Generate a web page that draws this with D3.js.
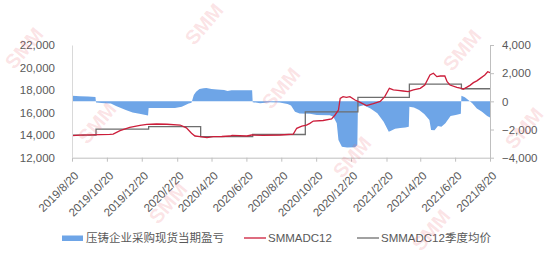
<!DOCTYPE html>
<html>
<head>
<meta charset="utf-8">
<script src="https://cdn.jsdelivr.net/npm/d3@7"></script>
<style>
  html, body { margin: 0; padding: 0; background: #fff; }
  svg { display: block; }
  text { font-family: "Liberation Sans", Arial, "Noto Sans CJK SC", sans-serif; }
</style>
</head>
<body>
<svg id="chart" width="550" height="256"></svg>
<script>
// ---- data ----
const tickDates = ["2019-08-20","2019-10-20","2019-12-20","2020-02-20","2020-04-20","2020-06-20",
  "2020-08-20","2020-10-20","2020-12-20","2021-02-20","2021-04-20","2021-06-20","2021-08-20"];
const tickLabels = ["2019/8/20","2019/10/20","2019/12/20","2020/2/20","2020/4/20","2020/6/20",
  "2020/8/20","2020/10/20","2020/12/20","2021/2/20","2021/4/20","2021/6/20","2021/8/20"];
const leftTicks = [12000, 14000, 16000, 18000, 20000, 22000];
const rightTicks = [-4000, -2000, 0, 2000, 4000];
const seriesNames = ["压铸企业采购现货当期盈亏", "SMMADC12", "SMMADC12季度均价"];

// 压铸企业采购现货当期盈亏 (right axis)
const profitDates = ["2019-08-20","2019-09-03","2019-09-17","2019-09-30","2019-10-01","2019-10-16","2019-10-27",
  "2019-11-05","2019-11-22","2019-12-04","2019-12-16","2019-12-31","2020-01-01","2020-01-21","2020-02-16",
  "2020-02-28","2020-03-11","2020-03-16","2020-03-20","2020-03-24","2020-03-30","2020-04-06","2020-04-11",
  "2020-04-20","2020-04-30","2020-05-12","2020-05-18","2020-05-25","2020-06-30","2020-07-01","2020-07-14",
  "2020-07-31","2020-08-17","2020-08-31","2020-09-06","2020-09-13","2020-09-21","2020-10-09","2020-10-21",
  "2020-11-13","2020-11-19","2020-11-25","2020-11-28","2020-12-04","2020-12-13","2020-12-27","2020-12-31",
  "2021-01-01","2021-01-11","2021-01-23","2021-02-04","2021-02-15","2021-02-24","2021-02-27","2021-03-07",
  "2021-03-16","2021-03-25","2021-03-31","2021-04-01","2021-04-09","2021-04-18","2021-04-27","2021-05-06",
  "2021-05-09","2021-05-15","2021-05-21","2021-05-27","2021-06-03","2021-06-12","2021-06-21","2021-06-30",
  "2021-07-01","2021-07-07","2021-07-13","2021-07-20","2021-07-28","2021-08-06","2021-08-15","2021-08-20"];
const profitValues = [400,360,350,300,-80,-140,-160,
  -330,-620,-800,-880,-1000,-480,-480,-470,
  -380,-150,-100,450,690,880,930,950,
  880,850,810,740,780,780,-60,-130,
  -60,-90,-190,-300,-730,-870,-880,-970,
  -990,-1090,-1560,-2740,-3220,-3270,-3250,-3100,
  -380,-280,-500,-850,-1440,-2150,-2100,-1950,
  -1900,-1850,-1800,-380,-430,-620,-900,-1320,
  -2030,-2050,-1750,-1800,-1560,-1040,-970,-880,
  400,290,95,-140,-500,-730,-1040,-1150];

// SMMADC12 (left axis)
const priceDates = ["2019-08-20","2019-09-03","2019-09-20","2019-10-08","2019-10-25","2019-10-31","2019-11-12",
  "2019-11-29","2019-12-17","2019-12-29","2020-01-15","2020-02-02","2020-02-25","2020-03-07","2020-03-16",
  "2020-03-22","2020-03-31","2020-04-12","2020-04-23","2020-05-08","2020-05-22","2020-05-26","2020-06-21",
  "2020-06-29","2020-07-19","2020-08-18","2020-09-10","2020-09-16","2020-09-25","2020-10-03","2020-10-09",
  "2020-10-15","2020-11-01","2020-11-16","2020-11-22","2020-11-28","2020-12-01","2020-12-06","2020-12-12",
  "2020-12-18","2020-12-27","2021-01-05","2021-01-16","2021-01-28","2021-02-09","2021-02-17","2021-02-25",
  "2021-03-04","2021-03-12","2021-03-21","2021-03-30","2021-04-08","2021-04-20","2021-04-28","2021-05-07",
  "2021-05-13","2021-05-19","2021-05-25","2021-06-02","2021-06-06","2021-06-11","2021-06-23","2021-07-01",
  "2021-07-04","2021-07-10","2021-07-16","2021-07-22","2021-07-28","2021-08-03","2021-08-11","2021-08-16","2021-08-20"];
const priceValues = [13950,14000,14020,14050,14070,14100,14400,
  14700,14875,14960,14990,14970,14900,14650,14165,
  13925,13865,13775,13865,13880,13925,13980,13925,
  14015,13980,14015,14100,14610,14810,14900,15050,
  15255,15300,15435,15790,16230,17270,17410,17350,
  17410,17120,16915,16620,16800,17000,17420,18160,
  18010,17980,17920,17860,18010,18160,18450,19340,
  19490,19190,19250,19250,18745,18450,18240,18160,
  18070,18240,18420,18660,18820,19040,19340,19630,19550];

// SMMADC12季度均价 (left axis, quarterly steps)
const avgDates = ["2019-08-20","2019-10-01","2020-01-01","2020-04-01","2020-07-01","2020-10-01",
  "2021-01-01","2021-04-01","2021-07-01","2021-08-20"];
const avgValues = [14000,14530,14760,13870,14060,16070,17360,18520,18120,18120];

// ---- layout ----
const svg = d3.select("#chart");
const X0 = 72, X1 = 490, YT = 45, YB = 157.7;
const parse = d3.timeParse("%Y-%m-%d");
const x = d3.scaleTime().domain([parse("2019-08-20"), parse("2021-08-20")]).range([X0, X1]);
const yL = d3.scaleLinear().domain([12000, 22000]).range([YB, YT]);
const yR = d3.scaleLinear().domain([-4000, 4000]).range([YB, YT]);

const blue = "#6ea5e7", red = "#cc1d3a", gray = "#6e6e6e", labelColor = "#595959";

// profit / loss area
const profit = profitDates.map((d, i) => ({ d: parse(d), v: profitValues[i] }));
svg.append("path")
  .datum(profit)
  .attr("fill", blue)
  .attr("d", d3.area().x(p => x(p.d)).y0(yR(0)).y1(p => yR(p.v)));

// quarterly average step line
const avg = avgDates.map((d, i) => ({ d: parse(d), v: avgValues[i] }));
svg.append("path")
  .datum(avg)
  .attr("fill", "none").attr("stroke", gray).attr("stroke-width", 1.3)
  .attr("d", d3.line().x(p => x(p.d)).y(p => yL(p.v)).curve(d3.curveStepAfter));

// spot price line
const price = priceDates.map((d, i) => ({ d: parse(d), v: priceValues[i] }));
svg.append("path")
  .datum(price)
  .attr("fill", "none").attr("stroke", red).attr("stroke-width", 1.3)
  .attr("d", d3.line().x(p => x(p.d)).y(p => yL(p.v)));

// axes
const gx = svg.append("g").attr("transform", `translate(0,${YB})`)
  .call(d3.axisBottom(x).tickValues(tickDates.map(parse)).tickSize(4).tickSizeOuter(0).tickFormat((d, i) => tickLabels[i]));
gx.select(".domain").attr("stroke", "#bfbfbf");
gx.selectAll(".tick line").attr("stroke", "#bfbfbf");
gx.selectAll(".tick text")
  .attr("fill", labelColor).attr("font-size", 11.5)
  .attr("text-anchor", "end")
  .attr("transform", "translate(4,16) rotate(-45)")
  .attr("x", 0).attr("y", 0).attr("dy", "0.35em");

const gl = svg.append("g").attr("transform", `translate(${X0},0)`)
  .call(d3.axisLeft(yL).tickValues(leftTicks).tickSize(0).tickPadding(17).tickFormat(d3.format(",")));
gl.select(".domain").attr("stroke", "#d9d9d9");
gl.selectAll(".tick text").attr("fill", labelColor).attr("font-size", 11.5);

const gr = svg.append("g").attr("transform", `translate(${X1},0)`)
  .call(d3.axisRight(yR).tickValues(rightTicks).tickSize(4).tickSizeOuter(0).tickPadding(8).tickFormat(d3.format(",")));
gr.select(".domain").attr("stroke", "#bfbfbf");
gr.selectAll(".tick line").attr("stroke", "#bfbfbf");
gr.selectAll(".tick text").attr("fill", labelColor).attr("font-size", 11.5);

// legend
const lg = svg.append("g").attr("font-size", 11.5).attr("fill", labelColor);
lg.append("rect").attr("x", 62).attr("y", 235.5).attr("width", 21).attr("height", 5.5).attr("fill", blue);
lg.append("text").attr("x", 86).attr("y", 242).text(seriesNames[0]);
lg.append("line").attr("x1", 244).attr("x2", 266).attr("y1", 238).attr("y2", 238).attr("stroke", red).attr("stroke-width", 1.3);
lg.append("text").attr("x", 268).attr("y", 242).text(seriesNames[1]);
lg.append("line").attr("x1", 357).attr("x2", 379).attr("y1", 238).attr("y2", 238).attr("stroke", gray).attr("stroke-width", 1.3);
lg.append("text").attr("x", 381).attr("y", 242).text(seriesNames[2]);

// brand watermark
const marks = [[24,48],[97,123],[168,203],[204,24],[281,88],[352,157],[431,230],[462,50],[524,128]];
svg.append("g").selectAll("text").data(marks).join("text")
  .attr("transform", d => `translate(${d[0]},${d[1]}) rotate(-50)`)
  .attr("text-anchor", "middle").attr("dy", "0.35em")
  .attr("font-size", 20).attr("font-weight", "bold")
  .attr("fill", "#ee6f7c").attr("fill-opacity", 0.2)
  .text("SMM");
</script>
</body>
</html>
